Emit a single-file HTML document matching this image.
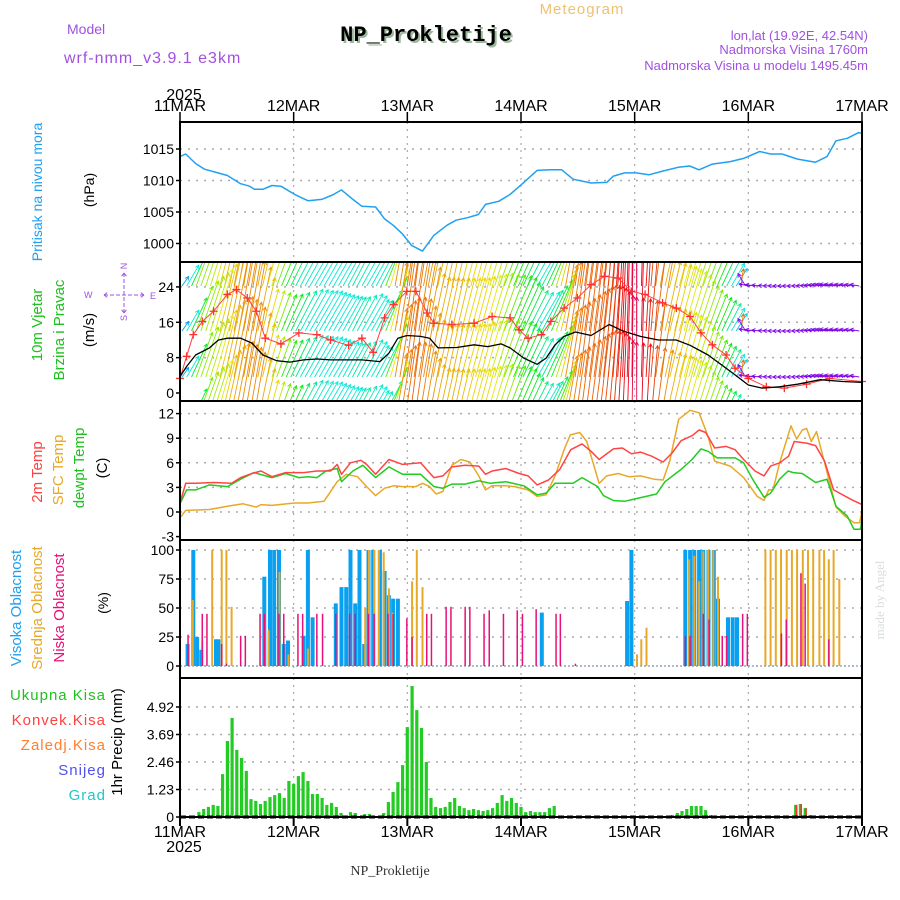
<!DOCTYPE html>
<html><head><meta charset="utf-8"><style>
html,body{margin:0;padding:0;background:#fff;}
svg{display:block;font-family:"Liberation Sans",sans-serif;}
</style></head><body>
<svg id="c" width="900" height="900" viewBox="0 0 900 900" xmlns="http://www.w3.org/2000/svg">
<defs><clipPath id="clipW"><rect x="180" y="262" width="682" height="139"/></clipPath></defs>
<text x="582" y="14" font-size="15" fill="#f0c070" text-anchor="middle" letter-spacing="1">Meteogram</text>
<text x="67" y="34" font-size="14" fill="#a050e0">Model</text>
<text x="64" y="63" font-size="16" fill="#a050e0" letter-spacing="1">wrf-nmm_v3.9.1 e3km</text>
<text x="428" y="43" font-size="22" font-weight="bold" font-family="Liberation Mono,monospace" fill="#9ab89a" text-anchor="middle">NP_Prokletije</text>
<text x="426" y="41" font-size="22" font-weight="bold" font-family="Liberation Mono,monospace" fill="#000" text-anchor="middle">NP_Prokletije</text>
<text x="868" y="40" font-size="13" fill="#a050e0" text-anchor="end">lon,lat (19.92E, 42.54N)</text>
<text x="868" y="54" font-size="13" fill="#a050e0" text-anchor="end">Nadmorska Visina 1760m</text>
<text x="868" y="70" font-size="13" fill="#a050e0" text-anchor="end">Nadmorska Visina u modelu 1495.45m</text>
<text x="184" y="100" font-size="16" fill="#000" text-anchor="middle">2025</text>
<text x="184" y="852" font-size="16" fill="#000" text-anchor="middle">2025</text>
<text x="390" y="875" font-size="14" font-family="Liberation Serif,serif" fill="#333" text-anchor="middle">NP_Prokletije</text>
<text transform="translate(42,192) rotate(-90)" font-size="14" fill="#1ea0f0" text-anchor="middle">Pritisak na nivou mora</text>
<text transform="translate(94,190) rotate(-90)" font-size="14" fill="#000" text-anchor="middle">(hPa)</text>
<text transform="translate(42,325) rotate(-90)" font-size="15" fill="#20c020" text-anchor="middle">10m Vjetar</text>
<text transform="translate(64,330) rotate(-90)" font-size="15" fill="#20c020" text-anchor="middle">Brzina i Pravac</text>
<text transform="translate(94,330) rotate(-90)" font-size="15" fill="#000" text-anchor="middle">(m/s)</text>
<g fill="#a050e0" stroke="none" font-size="9">
<text x="84" y="298">W</text><text x="150" y="299">E</text>
<text transform="translate(127,266) rotate(-90)" text-anchor="middle">N</text>
<text transform="translate(127,318) rotate(-90)" text-anchor="middle">S</text>
<path d="M104,295 h40 M124,273 v40 M104,295 l4,-3 M104,295 l4,3 M144,295 l-4,-3 M144,295 l-4,3 M124,273 l-3,4 M124,273 l3,4 M124,313 l-3,-4 M124,313 l3,-4" stroke="#a050e0" stroke-width="1" stroke-dasharray="4,2" fill="none"/>
</g>
<text transform="translate(42,472) rotate(-90)" font-size="15" fill="#ff4040" text-anchor="middle">2m Temp</text>
<text transform="translate(63,470) rotate(-90)" font-size="15" fill="#e8a828" text-anchor="middle">SFC Temp</text>
<text transform="translate(84,468) rotate(-90)" font-size="15" fill="#20c020" text-anchor="middle">dewpt Temp</text>
<text transform="translate(107,468) rotate(-90)" font-size="15" fill="#000" text-anchor="middle">(C)</text>
<text transform="translate(21,608) rotate(-90)" font-size="15" fill="#1ea0f0" text-anchor="middle">Visoka Oblacnost</text>
<text transform="translate(42,608) rotate(-90)" font-size="15" fill="#e8a828" text-anchor="middle">Srednja Oblacnost</text>
<text transform="translate(64,608) rotate(-90)" font-size="15" fill="#e8107a" text-anchor="middle">Niska Oblacnost</text>
<text transform="translate(108,603) rotate(-90)" font-size="14" fill="#000" text-anchor="middle">(%)</text>
<text transform="translate(122,742) rotate(-90)" font-size="15" fill="#000" text-anchor="middle">1hr Precip (mm)</text>
<text x="106" y="700" font-size="15" fill="#20c020" text-anchor="end" letter-spacing="1">Ukupna Kisa</text>
<text x="106" y="725" font-size="15" fill="#ff4040" text-anchor="end" letter-spacing="1">Konvek.Kisa</text>
<text x="106" y="750" font-size="15" fill="#ff8030" text-anchor="end" letter-spacing="1">Zaledj.Kisa</text>
<text x="106" y="775" font-size="15" fill="#5050f0" text-anchor="end" letter-spacing="1">Snijeg</text>
<text x="106" y="800" font-size="15" fill="#20c8c8" text-anchor="end" letter-spacing="1">Grad</text>
<text transform="translate(884,600) rotate(-90)" font-size="13" font-family="Liberation Serif,serif" fill="#d8e0d8" text-anchor="middle">made by Angel</text>
</svg>
<script>
// ---- data ----
const dayLabels=["11MAR","12MAR","13MAR","14MAR","15MAR","16MAR","17MAR"];
const presTicks=[1000,1005,1010,1015];
const windTicks=[0,8,16,24];
const tempTicks=[-3,0,3,6,9,12];
const cloudTicks=[0,25,50,75,100];
const precipTicks=[0,1.23,2.46,3.69,4.92];
const presHours=[0,1.2,3.3,5.2,8,10,12.8,14.7,15.7,17.5,19.4,21.3,24.2,27,29.9,32.2,34.1,36.5,38.4,41.3,43.2,45,47,48.9,51.2,53.6,56.4,58.3,60.7,63,64.5,67.3,69.7,72.6,75.4,78.3,80.6,83,86.8,90.1,91.5,93.9,96.3,99,101.9,105.2,107.6,109.6,112.4,116.2,119,122.4,124.7,127.1,130.4,134.2,136.6,138.5,140.9,143.3,144];
const presVals=[1013.8,1014.2,1012.7,1011.8,1011.2,1010.8,1009.5,1009.1,1008.6,1008.6,1009.2,1009.1,1007.8,1006.8,1007,1007.7,1008.5,1007,1005.9,1005.8,1003.9,1002.9,1001.5,999.7,998.8,1001.3,1002.9,1003.7,1004.1,1004.6,1006.2,1006.7,1007.8,1009.7,1011.6,1011.7,1011.7,1010.2,1009.6,1009.7,1010.7,1011.2,1011.2,1010.9,1011.5,1012.1,1012.3,1011.7,1012.6,1013,1013.5,1014.6,1014.2,1014.2,1013.4,1012.9,1013.8,1016.3,1016.7,1017.6,1017.5];
const t2Hours=[0,1.2,3.3,7.1,10.9,12.8,15.2,17.1,19.4,22.3,26.1,28.9,31.8,33.2,34.1,36,38.2,39.4,41.3,44.1,47,50.8,53.6,55.5,57.4,60.2,63.1,64.5,65.9,68.8,71.6,73.5,75.4,77.8,80.2,82.5,84.9,86.8,88.5,91.5,93.4,95.3,97.2,99.6,102,103.9,105.8,108.1,109.6,111,112.9,115.3,117.2,119,121.4,123.3,124.7,126.6,128.5,129.7,132.3,134.2,136.1,138,141.8,144];
const t2Vals=[1.1,3.5,3.5,3.6,3.5,4.2,4.7,5.0,4.3,4.8,4.8,5.0,5.0,5.8,4.6,6.0,6.3,5.8,4.6,6.4,5.8,6.0,4.2,4.4,5.5,5.7,5.6,4.6,5.0,5.3,4.7,4.4,3.3,3.9,5.2,7.6,8.3,7.4,6.4,7.7,7.8,7.1,7.3,6.8,6.1,7.2,8.7,9.3,10.0,9.7,7.8,8.0,7.6,6.4,5.0,4.4,5.6,6.0,6.8,8.6,8.4,8.1,6.2,2.7,1.5,0.9];
const sfcHours=[0,1.2,6.2,10,13.3,16.1,17.1,19.4,24.2,27,30.4,33.2,35.1,37.5,39.4,41.3,43.2,45.1,47,49.8,51.2,52.7,54.1,55.5,57.4,59.3,61.2,63.1,64.5,65.9,68.8,70.7,73.5,75.4,77.3,79.2,81.1,82.4,84.4,85.9,88.5,90.1,92.5,94.8,97.2,100.1,102,103.4,105.3,107.7,109.6,111.5,112.9,116.2,119,121.9,123.3,124.3,125.2,126.6,129,130.2,131.4,132.3,133.3,134.4,136.1,138.5,140.4,142.3,143.5,144];
const sfcVals=[-0.7,0.2,0.3,0.7,1.0,0.6,0.9,0.8,1.1,1.1,1.3,3.7,4.6,4.3,3.1,2.0,2.9,3.2,3.1,3.1,3.5,3.1,2.2,2.5,5.7,6.4,6.1,4.4,2.7,3.2,3.2,3.1,2.7,1.9,2.1,4.4,7.6,9.4,9.7,8.6,3.5,4.4,4.7,4.3,4.4,4.0,3.9,6.2,11.3,12.4,12.1,9.2,6.2,5.6,4.2,1.9,1.4,2.7,2.7,6.0,10.5,8.9,10.0,10.2,8.6,9.8,6.0,0.6,-0.5,-1.3,-1.3,0.1];
const dewHours=[0,1.4,3.3,6.2,10,12.8,15.6,19.4,22.3,25.1,27,28.9,30.8,33.2,34.1,36.5,38.6,41.3,44.1,47,50.8,53.6,55.5,57.4,60.2,63.1,65.5,68.8,72.6,75.4,77.3,79.2,83,84.9,88.2,89.4,91.5,93.9,96.8,100.6,102.4,105.8,108.1,110,111.5,113.4,117.2,119,120.9,123.3,124.7,126.6,128.4,129.5,131.4,134.2,136.6,138.5,140.9,142.3,143.7,144];
const dewVals=[1.0,2.7,2.7,3.3,3.1,4.0,4.8,4.2,4.7,4.2,4.3,4.2,5.0,5.3,3.7,5.0,5.7,4.2,5.5,4.6,4.6,3.1,2.9,3.4,3.4,3.8,3.5,3.7,3.2,2.1,2.3,3.5,3.5,4.2,3.1,2.0,1.4,1.3,1.7,2.2,3.7,5.2,6.4,7.7,7.4,6.6,6.6,6.0,4.0,1.8,2.3,4.0,5.0,4.8,4.7,3.6,4.0,0.7,-0.5,-2.1,-2.1,-0.7];
const spdHours=[0,1.4,3.3,6.2,8.1,10,12.8,15.2,17.5,20.4,23.2,26.1,28.9,31.8,35.6,38.4,42.2,44.1,46,47.9,50.8,52.7,54.5,58.4,62.1,65,67.8,69.7,72.6,75.4,77.3,79.2,81.1,83.5,86.8,90.6,93.4,97.2,101,104.8,107.7,111.5,114.3,117.2,120,122.9,126.6,130.4,135.2,139.9,144];
const spdVals=[3.7,6,8.6,10.2,12,12.4,12.4,11.3,8.6,7.3,7,7.5,7.7,7.5,7.5,7.5,7.1,9,12.4,13,12.8,12.4,10.2,10.3,10.9,10.5,11.1,10.2,7.9,6.5,7.9,10.9,12.8,13.8,13,15.5,14.1,12.8,12,12,10.8,8.6,6.4,4.1,1.8,1.1,1.4,2,3,2.6,2.4];
const gustHours=[0,1.4,2.8,4.7,7.1,10,11.9,14.2,16.1,18,21.3,25.1,28.9,31.8,35.6,38.4,40.8,43.2,45.1,47.9,49.8,52.2,53.6,57.4,62.1,65.9,69.7,71.6,73.5,76.3,78.3,81.1,83.9,86.8,89.6,92.5,95.3,98.2,101.9,104.8,107.7,110,112.4,115.3,117.2,120,123.8,127.6,132.3,137.1,144];
const gustVals=[3.3,8.3,13.2,16.2,18.5,22.3,23.4,21.5,18.5,12.4,11.1,13.6,13.2,12,10.8,12.4,9.2,17,20,23,23,18.1,15.8,15.5,15.8,17.3,17,14.3,12.4,13.2,16.2,19.2,21.5,24.5,26.4,26,23,22.3,20.4,19.2,17.3,13.6,10.9,8.6,5.6,3.3,1.4,1.1,2,3.3,2.6];
const dirVals=[250,220,215,205,200,200,210,225,235,240,240,240,235,240,235,200,195,200,205,205,210,210,215,225,230,240,225,200,195,195,190,185,180,190,205,210,215,220,230,245,100,95,90,90,95,100,100,100,100]; // every 3 h
const highHours=[1.6,2.8,3.6,4.5,7.6,8.1,17.8,19,19.9,20.9,21.9,22.8,26.1,27,28,32.9,34.1,35.1,36,37,37.9,38.9,39.8,40.8,42.2,43.2,44.1,45,46,76.4,94.4,95.3,106.7,107.7,108.6,109.6,110.5,111.6,112.7,113.6,115.7,116.7,117.6];
const highVals=[19,100,25,14,23,23,77,100,100,100,19,22,26,100,42,54,68,68,100,54,100,19,100,100,100,82,61,58,58,46,56,100,100,100,100,100,100,100,100,58,42,42,42];
const midHours=[2.7,4.7,6.8,8.8,9.8,10.9,18.7,21,22.9,27,39.1,39.9,41,42,43,44.1,44.9,49,50,51.2,96.5,97.4,98.5,107.5,108.6,109.6,110.5,111.5,112.6,113.6,123.6,124.7,125.8,126.9,128.1,129.2,130.3,131.5,132.6,133.7,135,136,137,138,139.2];
const midVals=[57,22,100,100,100,51,31,81,10,15,50,100,100,100,98,67,46,73,100,68,10,23,33,92,95,73,99,100,100,77,100,100,100,100,100,100,100,100,100,100,100,100,92,100,75];
const lowHours=[1.7,4.7,5.7,8.8,9.8,12.8,13.8,16.9,17.8,20.9,21.9,24.9,25.9,28.9,30.1,32.9,35.8,37,39.8,41,43.9,45,47.9,49,52.1,53.1,56.2,57.2,60.2,61.2,64.2,65.3,68.3,71.2,72.3,75.2,79.4,80.3,83.5,106.7,107.7,110.5,111.7,114.5,115.4,118.8,119.8,127,128,131.1,132,137];
const lowVals=[27,45,45,19,2,26,26,45,45,45,45,45,45,45,45,45,45,45,45,45,45,45,41,25,45,45,51,51,51,51,45,48,45,48,45,49,45,45,2,26,26,45,40,26,26,45,45,28,40,80,71,23];
const precipVals=[0,0,0,0,0.22,0.36,0.45,0.54,0.49,1.92,3.4,4.43,3.0,2.64,2.06,0.8,0.72,0.58,0.72,0.89,0.98,1.07,0.85,1.61,1.48,1.83,2.01,1.61,1.03,1.03,0.85,0.54,0.63,0.45,0.18,0,0.22,0.18,0.04,0.13,0.13,0.04,0.04,0.18,0.67,1.12,1.56,2.32,4.02,5.86,4.78,3.98,2.46,0.85,0.45,0.4,0.45,0.67,0.85,0.49,0.4,0.31,0.36,0.31,0.27,0.31,0.4,0.63,0.98,0.72,0.85,0.63,0.45,0.22,0.27,0.22,0.22,0.22,0.4,0.49,0.04,0,0,0,0,0,0,0,0,0,0,0,0,0,0,0,0,0,0,0,0,0.04,0.04,0.04,0.09,0.18,0.27,0.36,0.49,0.49,0.49,0.31,0.09,0,0,0,0,0,0.04,0,0.04,0,0,0,0,0,0,0,0.04,0,0.54,0.58,0.4,0.09,0.04,0,0,0,0,0,0,0,0,0,0];
const convHours=[130,131,132,133];
const convVals=[0.54,0.58,0.4,0.09];

// ---- layout ----
const NS="http://www.w3.org/2000/svg";
const svg=document.getElementById('c');
const X0=180,X1=862,HMAX=144;
const xs=h=>X0+h/HMAX*(X1-X0);
const panels={
 pres:{top:122,bot:262,y:v=>149+(1015-v)*6.3},
 wind:{top:262,bot:401,y:v=>393-v*4.42},
 temp:{top:401,bot:540,y:v=>512-v*8.2},
 cloud:{top:540,bot:678,y:v=>666-v*1.16},
 prec:{top:678,bot:817,y:v=>817-v*22.36}
};
function mk(tag,attrs,parent){const e=document.createElementNS(NS,tag);for(const k in attrs)e.setAttribute(k,attrs[k]);(parent||svg).appendChild(e);return e;}
function interp(hs,vs,h){if(h<=hs[0])return vs[0];for(let i=1;i<hs.length;i++){if(h<=hs[i]){const t=(h-hs[i-1])/(hs[i]-hs[i-1]);return vs[i-1]+t*(vs[i]-vs[i-1]);}}return vs[vs.length-1];}

function panelAxes(key,ticks,fmt){
 const p=panels[key];
 const g=mk('g',{});
 
 
 for(let d=1;d<6;d++){const x=xs(d*24);mk('line',{x1:x,x2:x,y1:p.top,y2:p.bot,stroke:'#aaa','stroke-width':1.2,'stroke-dasharray':'2,5'},g);}
 ticks.forEach(t=>{const y=p.y(t);
  if(t!==ticks[0]||key==='cloud'||key==='pres')mk('line',{x1:X0,x2:X1,y1:y,y2:y,stroke:'#aaa','stroke-width':1.5,'stroke-dasharray':'2,6'},g);
  mk('line',{x1:X0-4,x2:X0,y1:y,y2:y,stroke:'#000','stroke-width':1.5},g);
  const tx=mk('text',{x:X0-6,y:y+5,'font-size':14,'text-anchor':'end',fill:'#000'},g);
  tx.textContent=fmt?fmt(t):t;
 });
}
panelAxes('pres',presTicks);
panelAxes('wind',windTicks);
panelAxes('temp',tempTicks);
panelAxes('cloud',cloudTicks);
panelAxes('prec',precipTicks,t=>t===0?'0':t.toFixed(2));

function line(hs,vs,p,color,name,w){
 const pts=hs.map((h,i)=>xs(h).toFixed(1)+','+p.y(vs[i]).toFixed(1)).join(' ');
 const el=mk('polyline',{points:pts,fill:'none',stroke:color,'stroke-width':w||1.5,'stroke-linejoin':'round'});
 
 
 return el;
}
line(presHours,presVals,panels.pres,'#22a0f0','pressure-line');

// wind arrows
const hueK=[[180,340],[190,15],[200,35],[210,55],[220,90],[228,125],[236,165],[242,180],[255,210]];
function hueOf(d){if(d<150)return 272;if(d<=hueK[0][0])return hueK[0][1];for(let i=1;i<hueK.length;i++){if(d<=hueK[i][0]){const a=hueK[i-1],b=hueK[i];let h1=a[1],h2=b[1];if(h1>h2&&h1-h2>180)h2+=360;const t=(d-a[0])/(b[0]-a[0]);return (h1+t*(h2-h1))%360;}}return 210;}
const wg=mk('g',{'clip-path':'url(#clipW)'});


const dirHours=dirVals.map((_,i)=>i*3);
[286,331,377,422].forEach(base=>{
 for(let h=0;h<=143;h++){
  const d=interp(dirHours,dirVals,h);const s=interp(gustHours,gustVals,h);
  const len=Math.max(6,3.5*s);
  const deg=d<150?(d+180):(d-180)*0.5;
  const th=deg*Math.PI/180;
  const x=xs(h)+2,y=base;const ex=x+len*Math.sin(th),ey=y-len*Math.cos(th);
  const col='hsl('+hueOf(d).toFixed(0)+',95%,47%)';
  const a=Math.atan2(ey-y,ex-x);
  const hp=`M${x.toFixed(1)},${y} L${ex.toFixed(1)},${ey.toFixed(1)} M${(ex-4*Math.cos(a-0.5)).toFixed(1)},${(ey-4*Math.sin(a-0.5)).toFixed(1)} L${ex.toFixed(1)},${ey.toFixed(1)} L${(ex-4*Math.cos(a+0.5)).toFixed(1)},${(ey-4*Math.sin(a+0.5)).toFixed(1)}`;
  mk('path',{d:hp,stroke:col,'stroke-width':0.9,fill:'none'},wg);
 }
});
line(gustHours,gustVals,panels.wind,'#ff4040','gust-line',1);
gustHours.forEach((h,i)=>{const x=xs(h),y=panels.wind.y(gustVals[i]);
 const c=mk('path',{d:`M${x-4},${y} h8 M${x},${y-4} v8`,stroke:'#ff3030','stroke-width':1.3});
 
 
});
line(spdHours,spdVals,panels.wind,'#000','wind-speed-line',1.3);

line(sfcHours,sfcVals,panels.temp,'#e8a828','sfc-temp-line');
line(dewHours,dewVals,panels.temp,'#20cc20','dewpoint-line');
line(t2Hours,t2Vals,panels.temp,'#ff4444','temp-2m-line');

// clouds
const cp=panels.cloud;
mk('line',{x1:X0,x2:X1,y1:cp.y(0),y2:cp.y(0),stroke:'#9ab','stroke-width':1.5,'stroke-dasharray':'2,2'});
function bars(hs,vs,p,color,w,name,off){vs.forEach((v,i)=>{const x=xs(hs[i])+(off||0);const y=p.y(v);
 const r=mk('rect',{x:(x-w/2).toFixed(1),y:y.toFixed(1),width:w,height:Math.max(0,p.y(0)-y).toFixed(1),fill:color});
 
 
});}
bars(highHours,highVals,cp,'#0aa0f0',4,'high-cloud-bar');
bars(midHours,midVals,cp,'#e8a828',2,'mid-cloud-bar');
bars(lowHours,lowVals,cp,'#e8107a',1.5,'low-cloud-bar');

// precip
const pp=panels.prec;
const precHours=precipVals.map((_,i)=>i);
bars(precHours.filter((_,i)=>precipVals[i]>0),precipVals.filter(v=>v>0),pp,'#22cc22',3.2,'precip-bar');
bars(convHours,convVals,pp,'#ff3030',1.6,'convective-precip-bar',0.8);

// frames
Object.keys(panels).forEach(k=>{const p=panels[k];
 const r=mk('rect',{x:X0,y:p.top,width:X1-X0,height:p.bot-p.top,fill:'none',stroke:'#000','stroke-width':2});
 
 
});
mk('line',{x1:X0,x2:X1,y1:817,y2:817,stroke:'#000','stroke-width':3,'stroke-dasharray':'6,3'});
dayLabels.forEach((d,i)=>{const x=xs(i*24);
 mk('line',{x1:x,x2:x,y1:112,y2:122,stroke:'#000','stroke-width':1.5});
 mk('line',{x1:x,x2:x,y1:817,y2:826,stroke:'#000','stroke-width':2});
 const t1=mk('text',{x:x,y:111,'font-size':16,'text-anchor':'middle',fill:'#000'});
 
 
 t1.textContent=d;
 const t2=mk('text',{x:x,y:837,'font-size':16,'text-anchor':'middle',fill:'#000'});
 
 
 t2.textContent=d;
});
</script>
</body></html>
